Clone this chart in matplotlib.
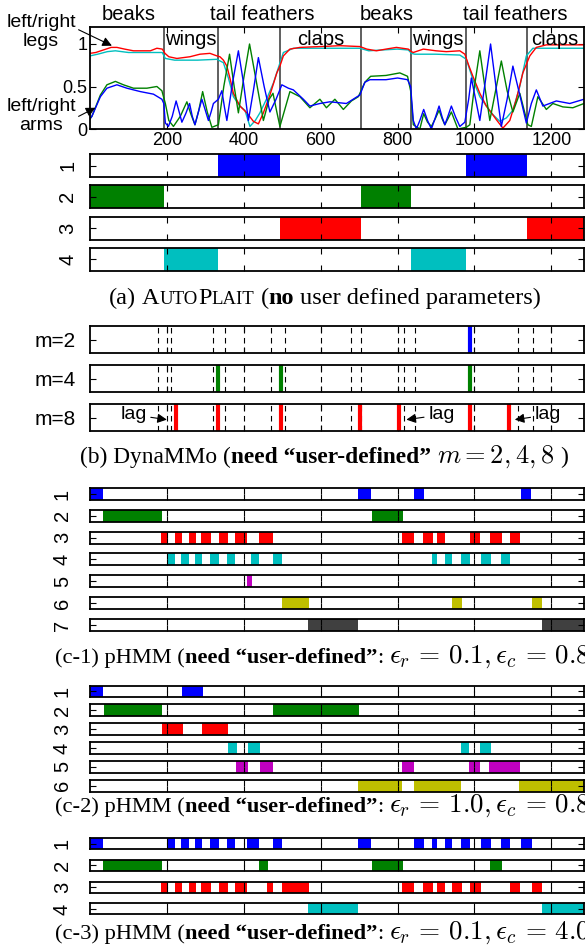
import matplotlib
matplotlib.use("Agg")
import matplotlib.pyplot as plt

W, H = 585, 948
L, R = 90, 584
XMAX = 1285

plt.rcParams['font.family'] = ['Liberation Sans', 'DejaVu Sans']
plt.rcParams['mathtext.fontset'] = 'cm'

# ---------------- data ----------------
boundaries = [192, 334, 494, 705, 834, 979, 1138]
seg_names_top = ["beaks", "tail feathers", "beaks", "tail feathers"]
seg_names_top_x = [100, 448, 772, 1105]
seg_names_in = ["wings", "claps", "wings", "claps"]
seg_names_in_x = [262, 600, 905, 1210]
xticks = [200, 400, 600, 800, 1000, 1200]

red_x = [0, 15, 35, 55, 70, 90, 113, 157, 174, 188, 195, 205, 226, 260, 286, 312, 330, 338, 347, 356, 365, 373, 390, 408, 425, 438, 451, 468, 486, 494, 503, 520, 546, 600, 650, 702, 720, 745, 770, 797, 828, 836, 841, 867, 900, 927, 962, 975, 985, 996, 1014, 1031, 1057, 1074, 1092, 1109, 1126, 1144, 1161, 1187, 1240, 1285]
red_y = [0.89, 0.90, 0.93, 0.96, 0.96, 0.94, 0.92, 0.92, 0.95, 0.94, 0.89, 0.85, 0.83, 0.85, 0.88, 0.89, 0.86, 0.85, 0.81, 0.74, 0.58, 0.42, 0.27, 0.19, 0.09, 0.06, 0.19, 0.40, 0.66, 0.74, 0.86, 0.94, 0.96, 0.97, 0.98, 0.97, 0.94, 0.92, 0.94, 0.96, 0.94, 0.91, 0.90, 0.94, 0.92, 0.91, 0.92, 0.88, 0.75, 0.62, 0.42, 0.27, 0.11, 0.01, 0.10, 0.35, 0.66, 0.86, 0.96, 0.99, 0.99, 0.99]

cyan_x = [0, 20, 45, 66, 100, 150, 188, 196, 220, 280, 330, 347, 360, 373, 390, 403, 416, 430, 442, 460, 477, 490, 503, 529, 560, 640, 702, 725, 760, 800, 828, 836, 845, 900, 962, 979, 996, 1014, 1031, 1048, 1066, 1083, 1100, 1118, 1135, 1152, 1200, 1285]
cyan_y = [0.86, 0.88, 0.91, 0.92, 0.90, 0.90, 0.90, 0.83, 0.81, 0.81, 0.82, 0.78, 0.60, 0.38, 0.27, 0.22, 0.03, 0.10, 0.19, 0.36, 0.54, 0.72, 0.90, 0.95, 0.95, 0.95, 0.95, 0.92, 0.93, 0.94, 0.93, 0.89, 0.88, 0.88, 0.87, 0.82, 0.58, 0.38, 0.27, 0.17, 0.09, 0.13, 0.22, 0.50, 0.86, 0.95, 0.95, 0.95]

blue_x = [0, 5, 27, 44, 70, 96, 131, 165, 187, 192, 196, 204, 214, 224, 232, 239, 249, 259, 266, 273, 282, 291, 300, 308, 315, 321, 334, 343, 350, 356, 371, 386, 399, 412, 425, 438, 453, 468, 484, 499, 516, 529, 555, 572, 598, 624, 667, 702, 715, 728, 770, 800, 826, 834, 841, 849, 858, 868, 878, 888, 898, 908, 916, 923, 931, 940, 951, 962, 975, 985, 992, 1003, 1014, 1028, 1042, 1056, 1070, 1085, 1100, 1118, 1135, 1148, 1161, 1178, 1213, 1248, 1285]
blue_y = [0.12, 0.15, 0.38, 0.48, 0.52, 0.48, 0.44, 0.41, 0.35, 0.30, 0.07, 0.03, 0.15, 0.33, 0.20, 0.08, 0.18, 0.30, 0.15, 0.05, 0.20, 0.35, 0.22, 0.10, 0.20, 0.30, 0.35, 0.45, 0.25, 0.10, 0.55, 0.92, 0.55, 0.10, 0.45, 0.84, 0.50, 0.20, 0.35, 0.52, 0.48, 0.46, 0.35, 0.27, 0.30, 0.32, 0.30, 0.40, 0.55, 0.58, 0.58, 0.60, 0.58, 0.50, 0.10, 0.00, 0.10, 0.23, 0.10, 0.00, 0.13, 0.27, 0.14, 0.05, 0.15, 0.27, 0.14, 0.03, 0.08, 0.35, 0.60, 0.35, 0.10, 0.55, 1.00, 0.50, 0.03, 0.35, 0.74, 0.40, 0.07, 0.30, 0.46, 0.27, 0.33, 0.30, 0.35]

green_x = [0, 5, 27, 44, 66, 87, 113, 148, 174, 187, 196, 205, 217, 235, 252, 262, 273, 283, 293, 305, 317, 334, 348, 363, 375, 386, 400, 415, 433, 451, 466, 476, 486, 494, 508, 520, 546, 572, 598, 615, 637, 659, 680, 698, 715, 730, 770, 806, 826, 834, 841, 858, 868, 878, 888, 898, 908, 916, 923, 931, 940, 957, 979, 988, 1000, 1014, 1027, 1040, 1055, 1070, 1085, 1100, 1118, 1139, 1148, 1165, 1187, 1204, 1230, 1256, 1285]
green_y = [0.12, 0.15, 0.40, 0.52, 0.56, 0.52, 0.48, 0.48, 0.50, 0.45, 0.30, 0.10, 0.03, 0.15, 0.32, 0.18, 0.05, 0.22, 0.44, 0.20, 0.02, 0.05, 0.50, 0.88, 0.50, 0.19, 0.60, 1.00, 0.55, 0.10, 0.35, 0.42, 0.20, 0.03, 0.25, 0.44, 0.38, 0.25, 0.35, 0.25, 0.35, 0.23, 0.33, 0.38, 0.55, 0.62, 0.63, 0.66, 0.62, 0.45, 0.05, 0.00, 0.18, 0.08, 0.03, 0.12, 0.22, 0.12, 0.05, 0.12, 0.20, 0.00, 0.02, 0.05, 0.50, 0.92, 0.50, 0.10, 0.45, 0.80, 0.45, 0.20, 0.42, 0.05, 0.03, 0.38, 0.23, 0.30, 0.26, 0.25, 0.30]

# AutoPlait regimes: (start, end) per row
ap_rows = [
    [(334, 494), (979, 1138)],
    [(0, 192), (705, 834)],
    [(494, 705), (1138, XMAX)],
    [(192, 334), (834, 979)],
]
ap_colors = ['#0000ff', '#008000', '#ff0000', '#00bfbf']

# DynaMMo segment points
dyn_labels = ['m=2', 'm=4', 'm=8']
dyn_points = [[988], [334, 496, 988], [223, 334, 496, 702, 804, 988, 1089]]
dyn_colors = ['#0000ff', '#008000', '#ff0000']
dyn_dash = [176, 211, 319, 351, 471, 507, 680, 706, 817, 845, 1113, 1152]
lag_text_x = [113, 914, 1191]
lag_tip_x = [200, 823, 1105]

# pHMM c-1
c1_rows = [
    [(0, 34), (698, 732), (842, 868), (1120, 1148)],
    [(35, 187), (734, 813)],
    [(185, 203), (222, 240), (258, 276), (289, 314), (336, 359), (377, 409), (440, 476), (811, 842), (866, 892), (902, 923), (988, 1015), (1040, 1071), (1092, 1119)],
    [(201, 222), (237, 258), (274, 292), (313, 336), (357, 377), (419, 440), (476, 500), (889, 902), (923, 941), (964, 988), (1016, 1042), (1068, 1092)],
    [(409, 422)],
    [(500, 569), (941, 967), (1149, 1177)],
    [(567, 697), (1175, XMAX)],
]
c1_colors = ['#0000ff', '#008000', '#ff0000', '#00bfbf', '#bf00bf', '#bfbf00', '#404040']

# pHMM c-2
c2_rows = [
    [(0, 35), (239, 293)],
    [(37, 188), (477, 700)],
    [(187, 242), (291, 360)],
    [(360, 382), (410, 443), (964, 987), (1015, 1042)],
    [(379, 410), (441, 477), (811, 843), (987, 1015), (1039, 1119)],
    [(698, 811), (843, 966), (1117, XMAX)],
]
c2_colors = ['#0000ff', '#008000', '#ff0000', '#00bfbf', '#bf00bf', '#bfbf00']

# pHMM c-3
c3_rows = [
    [(0, 34), (201, 222), (237, 258), (274, 292), (313, 336), (357, 377), (409, 440), (476, 500), (697, 732), (842, 868), (889, 902), (923, 941), (964, 988), (1016, 1042), (1068, 1092), (1120, 1149)],
    [(35, 187), (440, 463), (734, 814), (1040, 1071)],
    [(185, 203), (222, 240), (258, 276), (289, 315), (336, 359), (377, 409), (461, 476), (500, 569), (811, 842), (866, 892), (902, 923), (941, 967), (988, 1016), (1092, 1119), (1149, 1177)],
    [(567, 697), (1175, XMAX)],
]
c3_colors = ['#0000ff', '#008000', '#ff0000', '#00bfbf']

# ---------------- drawing ----------------
fig = plt.figure(figsize=(W / 100, H / 100), dpi=100)


def add_ax(top, height):
    return fig.add_axes([L / W, 1 - (top + height) / H, (R - L) / W, height / H])


def style_box(ax, lw=1.3):
    for s in ax.spines.values():
        s.set_linewidth(lw)
        s.set_color('black')


def bar_row(ax, spans, color, label, pad, fs=14.5):
    ax.set_xlim(0, XMAX)
    ax.set_ylim(0, 1)
    ax.broken_barh([(a, b - a) for a, b in spans], (0, 1), facecolors=color, edgecolor='none')
    ax.set_xticks(xticks)
    ax.set_xticklabels([])
    ax.set_yticks([0.5])
    ax.set_yticklabels([label], rotation=90, va='center', fontsize=fs)
    ax.tick_params(axis='x', direction='in', top=True, bottom=True, length=4, width=0.8)
    ax.tick_params(axis='y', direction='in', left=True, right=True, length=4, width=0.8, pad=pad)
    style_box(ax)


# top signal panel
ax0 = add_ax(27, 102)
ax0.set_xlim(0, XMAX)
ax0.set_ylim(0, 1.2)
for b in boundaries:
    ax0.axvline(b, color='#444444', lw=1.2)
ax0.plot(cyan_x, cyan_y, color='#00bfbf', lw=1.0)
ax0.plot(red_x, red_y, color='#ff0000', lw=1.0)
ax0.plot(green_x, green_y, color='#008000', lw=1.0)
ax0.plot(blue_x, blue_y, color='#0000ff', lw=1.0)
ax0.set_xticks(xticks)
ax0.set_xticklabels([str(t) for t in xticks], fontsize=13)
ax0.set_yticks([0, 0.5, 1])
ax0.set_yticklabels(['0', '0.5', '1'], fontsize=13)
ax0.tick_params(direction='in', top=True, right=True, length=4, width=0.8, pad=2)
style_box(ax0)
for name, x in zip(seg_names_top, seg_names_top_x):
    ax0.text(x, 1.24, name, ha='center', va='bottom', fontsize=14.5)
for name, x in zip(seg_names_in, seg_names_in_x):
    ax0.text(x, 1.17, name, ha='center', va='top', fontsize=14.5)
ax0.annotate('left/right\nlegs', xy=(57, 0.98), xycoords='data',
             xytext=(41 / W, 1 - 32 / H), textcoords='figure fraction',
             ha='center', va='center', fontsize=14, linespacing=1.15,
             arrowprops=dict(arrowstyle='-|>', color='black', lw=0.8, shrinkA=0, shrinkB=0,
                             relpos=(1.0, 0.6)))
ax0.annotate('left/right\narms', xy=(14, 0.25), xycoords='data',
             xytext=(41 / W, 1 - 116 / H), textcoords='figure fraction',
             ha='center', va='center', fontsize=14, linespacing=1.15,
             arrowprops=dict(arrowstyle='-|>', color='black', lw=0.8, shrinkA=0, shrinkB=0,
                             relpos=(1.0, 0.45)))

# AutoPlait rows
for i, (spans, col) in enumerate(zip(ap_rows, ap_colors)):
    ax = add_ax(154 + 31.3 * i, 23)
    bar_row(ax, spans, col, str(i + 1), pad=9)

# DynaMMo rows
dyn_tops = [326, 365, 404]
for i, (lab, pts, col) in enumerate(zip(dyn_labels, dyn_points, dyn_colors)):
    ax = add_ax(dyn_tops[i], 27)
    ax.set_xlim(0, XMAX)
    ax.set_ylim(0, 1)
    for d in dyn_dash + xticks:
        ax.axvline(d, color='black', lw=0.8, ls=(0, (5, 4)))
    for p in pts:
        ax.axvline(p, color=col, lw=3)
    ax.set_xticks(xticks)
    ax.set_xticklabels([])
    ax.set_yticks([0.5])
    ax.set_yticklabels([lab], fontsize=15)
    ax.tick_params(axis='x', direction='in', top=True, bottom=True, length=4, width=0.8)
    ax.tick_params(axis='y', direction='in', left=True, right=True, length=4, width=0.8, pad=10.5)
    style_box(ax)
    if i == 2:
        for tx, tp in zip(lag_text_x, lag_tip_x):
            ax.annotate('lag', xy=(tp, 0.42), xytext=(tx, 0.6), ha='center', va='center',
                        fontsize=14, arrowprops=dict(arrowstyle='-|>', color='black', lw=0.8,
                                                     shrinkA=1, shrinkB=0))

# pHMM panels
for i, (spans, col) in enumerate(zip(c1_rows, c1_colors)):
    ax = add_ax(488 + 21.83 * i, 12)
    bar_row(ax, spans, col, str(i + 1), pad=13)
for i, (spans, col) in enumerate(zip(c2_rows, c2_colors)):
    ax = add_ax(685.5 + 18.9 * i, 11.5)
    bar_row(ax, spans, col, str(i + 1), pad=13)
for i, (spans, col) in enumerate(zip(c3_rows, c3_colors)):
    ax = add_ax(838 + 21.8 * i, 11)
    bar_row(ax, spans, col, str(i + 1), pad=13)

# ---------------- captions ----------------
renderer = fig.canvas.get_renderer()
SERIF = 'Liberation Serif'


def space(fs):
    t = fig.text(0, 0, 'x x', family=SERIF, fontsize=fs)
    a = t.get_window_extent(renderer).width
    t.set_text('xx')
    b = t.get_window_extent(renderer).width
    t.remove()
    return a - b


def rich(x_px, y_px, pieces, fs, center=False):
    # pieces: (text, props, trailing_space)
    texts = []
    x = x_px
    sp = space(fs)
    for s, kw, trail in pieces:
        props = dict(family=SERIF, fontsize=fs)
        props.update(kw)
        t = fig.text(x / W, 1 - y_px / H, s, ha='left', va='baseline', **props)
        x += t.get_window_extent(renderer).width + (sp if trail else 0)
        texts.append(t)
    if center:
        total = x - x_px
        for t in texts:
            px, py = t.get_position()
            t.set_position((px - total / 2 / W, py))


FA = 17.5
SC = 13.5
rich(325, 304, [('(a)', {}, True), ('A', {}, False), ('UTO', {'fontsize': SC}, False),
                ('P', {}, False), ('LAIT', {'fontsize': SC}, True), ('(', {}, False),
                ('no', {'weight': 'bold'}, True), ('user defined parameters)', {}, False)],
     FA, center=True)
FB = 16.8
rich(80, 463, [('(b) DynaMMo (', {}, False), ('need \u201cuser-defined\u201d', {'weight': 'bold'}, True),
               (r'$m=2,4,8$', {'fontsize': 19}, True), (')', {}, False)], FB)
FC = 16.2
for cap, yy, ev in [('(c-1)', 663, r'$\epsilon_r\,=\,0.1,\epsilon_c\,=\,0.8$'),
                    ('(c-2)', 812, r'$\epsilon_r\,=\,1.0,\epsilon_c\,=\,0.8$'),
                    ('(c-3)', 939, r'$\epsilon_r\,=\,0.1,\epsilon_c\,=\,4.0$')]:
    rich(55, yy, [(cap + ' pHMM (', {}, False), ('need \u201cuser-defined\u201d', {'weight': 'bold'}, False),
                  (':', {}, True), (ev, {'fontsize': 19.5}, False), (')', {}, False)], FC)

fig.savefig('out.png', dpi=100)
